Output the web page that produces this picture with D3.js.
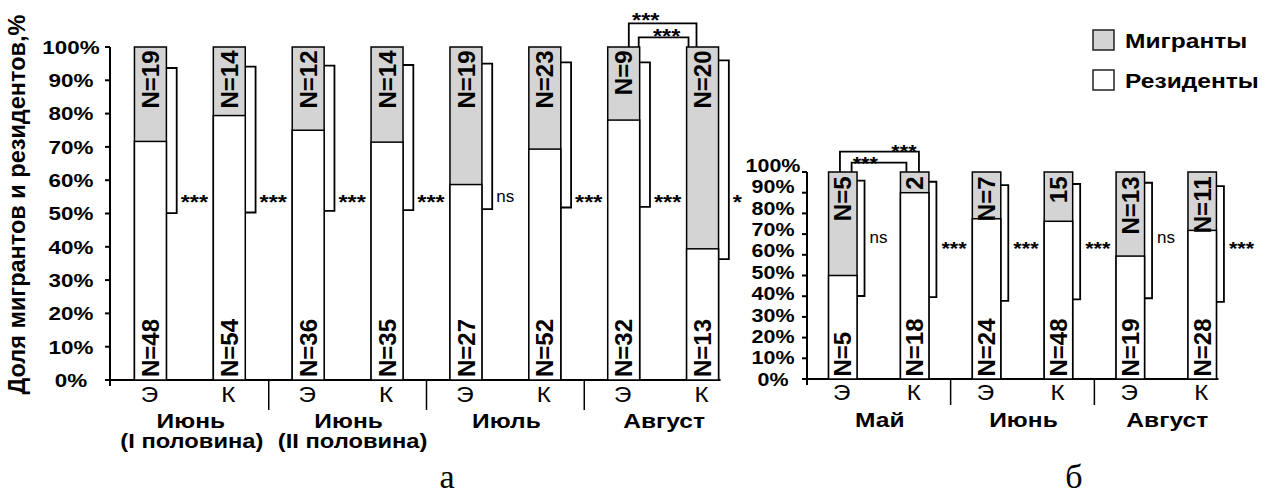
<!DOCTYPE html>
<html>
<head>
<meta charset="utf-8">
<script src="https://cdn.jsdelivr.net/npm/d3@7"></script>
<style>
  body { margin: 0; background: #fff; }
  svg { display: block; }
  text { font-family: Arial, "Liberation Sans", sans-serif; fill: #000; }
</style>
</head>
<body>
<svg id="chart" width="1287" height="495"></svg>
<script>
// ---- panel "а" ----
const sitesA = ["Э", "К", "Э", "К", "Э", "К", "Э", "К"];
const monthsA = ["Июнь", "Июнь", "Июль", "Август"];
const halvesA = ["(I половина)", "(II половина)", "", ""];
const residentsA = [48, 54, 36, 35, 27, 52, 32, 13];
const migrantsA = [19, 14, 12, 14, 19, 23, 9, 20];
const migrantLabelsA = ["N=19", "N=14", "N=12", "N=14", "N=19", "N=23", "N=9", "N=20"];
const bracketTopA = [0.937, 0.941, 0.944, 0.946, 0.95, 0.954, 0.954, 0.96];
const bracketBottomA = [0.501, 0.503, 0.508, 0.51, 0.513, 0.518, 0.52, 0.363];
const sigA = ["***", "***", "***", "***", "ns", "***", "***", "*"];
const pairsA = [[6, 7, "***"], [6, 7, "***"]];

// ---- panel "б" ----
const sitesB = ["Э", "К", "Э", "К", "Э", "К"];
const monthsB = ["Май", "Июнь", "Август"];
const halvesB = ["", "", ""];
const residentsB = [5, 18, 24, 48, 19, 28];
const migrantsB = [5, 2, 7, 15, 13, 11];
const migrantLabelsB = ["N=5", "2", "N=7", "15", "N=13", "N=11"];
const bracketTopB = [0.958, 0.953, 0.937, 0.942, 0.948, 0.932];
const bracketBottomB = [0.401, 0.396, 0.377, 0.385, 0.39, 0.373];
const sigB = ["ns", "***", "***", "***", "ns", "***"];
const pairsB = [[0, 1, "***"], [0, 1, "***"]];

const yTicks = [0, 0.1, 0.2, 0.3, 0.4, 0.5, 0.6, 0.7, 0.8, 0.9, 1];
const yTitle = "Доля мигрантов и резидентов,%";
const legendItems = ["Мигранты", "Резиденты"];

const GRAY = "#d4d4d4";
const svg = d3.select("#chart");

function label(g, x, y, s, size, weight, anchor, sx) {
  return g.append("text")
    .attr("transform", `translate(${x},${y}) scale(${sx},1)`)
    .attr("text-anchor", anchor)
    .style("font-size", size + "px")
    .style("font-weight", weight)
    .text(s);
}

function drawPanel(p, c) {
  const g = svg.append("g");
  const n = p.residents.length;
  const x = d3.scaleBand().domain(d3.range(n))
    .range([c.left, c.right]).paddingInner(c.padIn).paddingOuter(c.padOut);
  const y = d3.scaleLinear().domain([0, 1]).range([c.bottom, c.top]);
  const yl = d3.scaleLinear().domain([0, 1]).range([c.bottom, c.labelTop]);
  const bw = x.bandwidth();
  const share = p.residents.map((r, i) => r / (r + p.migrants[i]));

  // y axis
  g.append("line").attr("x1", c.left).attr("x2", c.left)
    .attr("y1", y(1)).attr("y2", c.bottom + 6)
    .attr("stroke", "#000").attr("stroke-width", 2);
  g.selectAll(".tk").data(yTicks).join("line")
    .attr("x1", c.left - 5).attr("x2", c.left)
    .attr("y1", d => y(d)).attr("y2", d => y(d))
    .attr("stroke", "#000").attr("stroke-width", 2);
  yTicks.forEach(v => {
    label(g, c.tickX, yl(v) + 0.358 * c.tickFont, Math.round(v * 100) + "%",
      c.tickFont, "bold", "middle", c.tickSx);
  });

  // x axis and group separators
  g.append("line").attr("x1", c.left - 4).attr("x2", x(n - 1) + bw + 2)
    .attr("y1", c.bottom).attr("y2", c.bottom)
    .attr("stroke", "#000").attr("stroke-width", 2);
  for (let k = 1; k < p.months.length; k++) {
    const sx = (x(2 * k - 1) + x(2 * k)) / 2 + bw / 2;
    g.append("line").attr("x1", sx).attr("x2", sx)
      .attr("y1", c.bottom).attr("y2", c.bottom + c.sepLen)
      .attr("stroke", "#000").attr("stroke-width", 1.5);
  }

  // bars: migrants fill the whole column, residents on top from the bottom
  g.selectAll(".mig").data(share).join("rect")
    .attr("x", (d, i) => x(i)).attr("width", bw)
    .attr("y", y(1)).attr("height", y(0) - y(1))
    .attr("fill", GRAY).attr("stroke", "#000").attr("stroke-width", 1.5);
  g.selectAll(".res").data(share).join("rect")
    .attr("x", (d, i) => x(i)).attr("width", bw)
    .attr("y", d => y(d)).attr("height", d => y(0) - y(d))
    .attr("fill", "#fff").attr("stroke", "#000").attr("stroke-width", 1.5);

  // N labels
  const nf = 24;
  share.forEach((d, i) => {
    const bx = x(i) + bw / 2 + 0.358 * nf;
    g.append("text")
      .attr("transform", `translate(${bx},${y(1) + c.nTopPad}) rotate(-90)`)
      .attr("text-anchor", "end").style("font-size", nf + "px").style("font-weight", "bold")
      .text(p.migrantLabels[i]);
    g.append("text")
      .attr("transform", `translate(${bx},${c.bottom - c.nBotPad}) rotate(-90)`)
      .attr("text-anchor", "start").style("font-size", nf + "px").style("font-weight", "bold")
      .text("N=" + p.residents[i]);
  });

  // side brackets with significance
  p.bracketTop.forEach((t, i) => {
    const x1 = x(i) + bw, bx = x1 + c.brGap;
    g.append("path")
      .attr("d", `M${x1},${y(t)}H${bx}V${y(p.bracketBottom[i])}H${x1}`)
      .attr("fill", "none").attr("stroke", "#000").attr("stroke-width", 1.8);
    const s = p.sig[i];
    if (s === "ns") {
      label(g, bx + c.sigGap, c.nsBase, s, 17, "normal", "start", 1);
    } else {
      label(g, bx + c.sigGap, c.starBase, s, c.starFont, "bold", "start", 1.17);
    }
  });

  // comparisons between columns
  p.pairs.forEach((pr, k) => {
    const L = c.pairs[k];
    const xa = x(pr[0]) + L.l * bw, xb = x(pr[1]) + L.r * bw;
    const py = y(1) - L.h;
    g.append("path").attr("d", `M${xa},${y(1)}V${py}H${xb}V${y(1)}`)
      .attr("fill", "none").attr("stroke", "#000").attr("stroke-width", 1.8);
    label(g, xa + L.t * (xb - xa), py - L.lift + 0.42 * c.starFont, pr[2],
      c.starFont, "bold", "middle", 1.17);
  });

  // category labels
  p.sites.forEach((s, i) => {
    label(g, x(i) + bw / 2 - 1, c.siteBase, s, 22, "normal", "middle", 1.1);
  });
  p.months.forEach((m, k) => {
    const cx = (x(2 * k) + x(2 * k + 1)) / 2 + bw / 2;
    label(g, cx + 1, c.monthBase, m, 21, "bold", "middle", 1.17);
    if (p.halves[k]) label(g, cx + 2 + 3 * k, c.monthBase + 20, p.halves[k], 21, "bold", "middle", 1.13);
  });

  svg.append("text")
    .attr("x", c.letterX).attr("y", 488)
    .attr("text-anchor", "middle")
    .style("font-family", "'Liberation Serif', 'Times New Roman', serif")
    .style("font-size", "34px")
    .text(c.letter);
}

drawPanel(
  { sites: sitesA, months: monthsA, halves: halvesA, residents: residentsA, migrants: migrantsA,
    migrantLabels: migrantLabelsA, bracketTop: bracketTopA, bracketBottom: bracketBottomA,
    sig: sigA, pairs: pairsA },
  { left: 110, right: 743, bottom: 380, top: 47, labelTop: 47, padIn: 0.595, padOut: 0.31,
    tickX: 71, tickFont: 19, tickSx: 1.18, sepLen: 30,
    nTopPad: 3.5, nBotPad: 3, brGap: 10.3, sigGap: 4,
    starFont: 20, starBase: 208.5, nsBase: 201.7,
    siteBase: 402, monthBase: 428, letter: "а", letterX: 447,
    pairs: [{ h: 23.7, l: 0.66, r: 0.31, t: 0.25, lift: 4.3 },
            { h: 9.7, l: 0.97, r: 0.06, t: 0.56, lift: 2.3 }] }
);

drawPanel(
  { sites: sitesB, months: monthsB, halves: halvesB, residents: residentsB, migrants: migrantsB,
    migrantLabels: migrantLabelsB, bracketTop: bracketTopB, bracketBottom: bracketBottomB,
    sig: sigB, pairs: pairsB },
  { left: 807, right: 1238, bottom: 379, top: 172, labelTop: 165, padIn: 0.604, padOut: 0.30,
    tickX: 773, tickFont: 19, tickSx: 1.13, sepLen: 26,
    nTopPad: 4.5, nBotPad: 2.5, brGap: 7.5, sigGap: 5,
    starFont: 18.5, starBase: 255, nsBase: 243.3,
    siteBase: 400, monthBase: 426.7, letter: "б", letterX: 1074,
    pairs: [{ h: 20.3, l: 0.40, r: 0.65, t: 0.81, lift: 1.7 },
            { h: 9.3, l: 0.81, r: 0.21, t: 0.25, lift: 0.4 }] }
);

// y axis title (panel а)
svg.append("text")
  .attr("transform", "translate(25,204.5) rotate(-90)")
  .attr("text-anchor", "middle")
  .style("font-size", "23.5px").style("font-weight", "bold")
  .text(yTitle);

// legend
const lg = svg.append("g");
legendItems.forEach((s, i) => {
  lg.append("rect").attr("x", 1093).attr("y", 30 + i * 40).attr("width", 21).attr("height", 20)
    .attr("fill", i === 0 ? GRAY : "#fff").attr("stroke", "#222").attr("stroke-width", 1.5);
  label(lg, 1125, 48.3 + i * 40, s, 21, "bold", "start", 1.17);
});
</script>
</body>
</html>
